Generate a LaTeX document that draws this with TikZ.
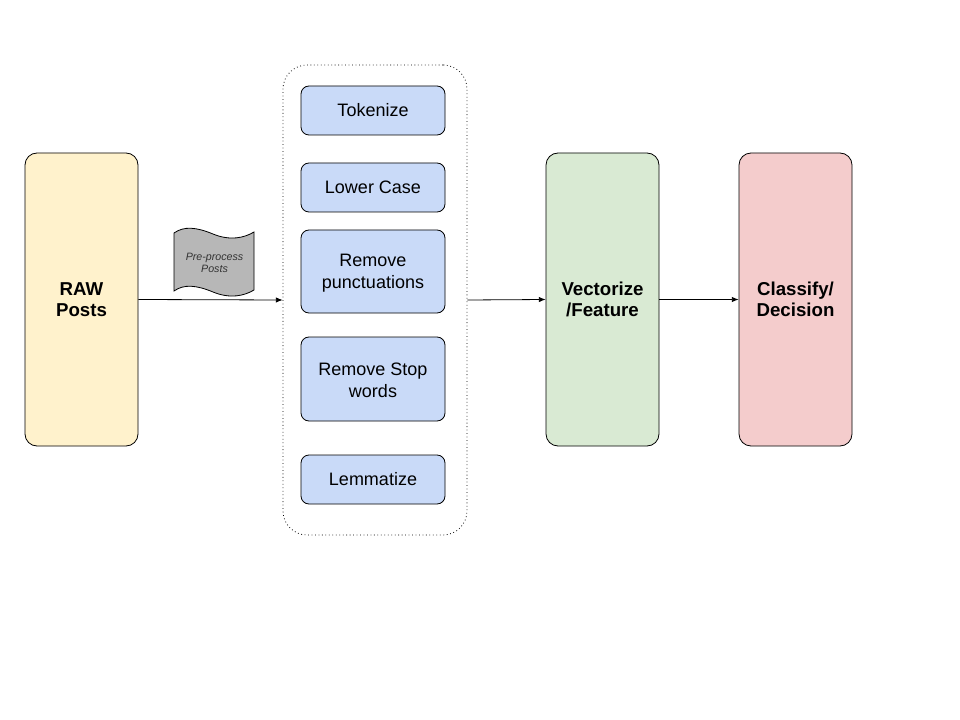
\documentclass[tikz,border=0pt]{standalone}
\usepackage{fontspec}
\setmainfont{Liberation Sans}
\usetikzlibrary{arrows.meta}
\definecolor{rawc}{HTML}{FFF2CC}
\definecolor{bluec}{HTML}{C9DAF8}
\definecolor{greenc}{HTML}{D9EAD3}
\definecolor{redc}{HTML}{F4CCCC}
\definecolor{tapec}{HTML}{B7B7B7}
\tikzset{
  bigbox/.style={draw=black, line width=0.6pt, rounded corners=9pt, minimum width=113*0.75pt, minimum height=293*0.75pt, align=center, font=\fontsize{14}{15.75}\selectfont\bfseries, inner sep=0pt},
  stepbox/.style={draw=black, line width=0.6pt, fill=bluec, rounded corners=6pt, minimum width=144*0.75pt, align=center, font=\fontsize{13.5}{16.5}\selectfont, inner sep=0pt},
  conn/.style={line width=0.6pt, -{Latex[length=5pt,width=4pt]}},
}
\begin{document}
\begin{tikzpicture}[x=0.75pt,y=-0.75pt]
\useasboundingbox (0,0) rectangle (960,720);
\fill[white] (0,0) rectangle (960,720);
% container
\node[draw=black, dotted, line width=0.6pt, rounded corners=18pt, minimum width=184*0.75pt, minimum height=470*0.75pt, inner sep=0pt] (group) at (375,300) {};
\node[bigbox, fill=rawc] (raw) at (81.5,299.5) {RAW\\Posts};
\node[bigbox, fill=greenc] (vec) at (602.5,299.5) {Vectorize\\/Feature};
\node[bigbox, fill=redc] (cls) at (795.5,299.5) {Classify/\\Decision};
\node[stepbox, minimum height=49*0.75pt] (tok) at (373,110.5) {Tokenize};
\node[stepbox, minimum height=49*0.75pt] (low) at (373,187.5) {Lower Case};
\node[stepbox, minimum height=83*0.75pt] (punc) at (373,271.5) {\strut Remove\\punctuations};
\node[stepbox, minimum height=84*0.75pt] (stop) at (373,379) {\strut Remove Stop\\words};
\node[stepbox, minimum height=49*0.75pt] (lem) at (373,479.5) {Lemmatize};
% tape
\draw[fill=tapec, line width=0.6pt]
  (174,233) .. controls (184,226) and (196,227) .. (213,234)
            .. controls (230,241) and (244,238) .. (254,232)
  -- (254,290)
  .. controls (244,296) and (230,299) .. (213,292)
  .. controls (196,285) and (184,284) .. (174,291) -- cycle;
\node[font=\fontsize{8}{9.5}\selectfont\itshape, align=center, text=black!80] (tape) at (214.5,263) {Pre-process\\Posts};
\draw[conn] (raw.east) -- (group.west);
\draw[conn] (group.east) -- (vec.west);
\draw[conn] (vec.east) -- (cls.west);
\end{tikzpicture}
\end{document}
